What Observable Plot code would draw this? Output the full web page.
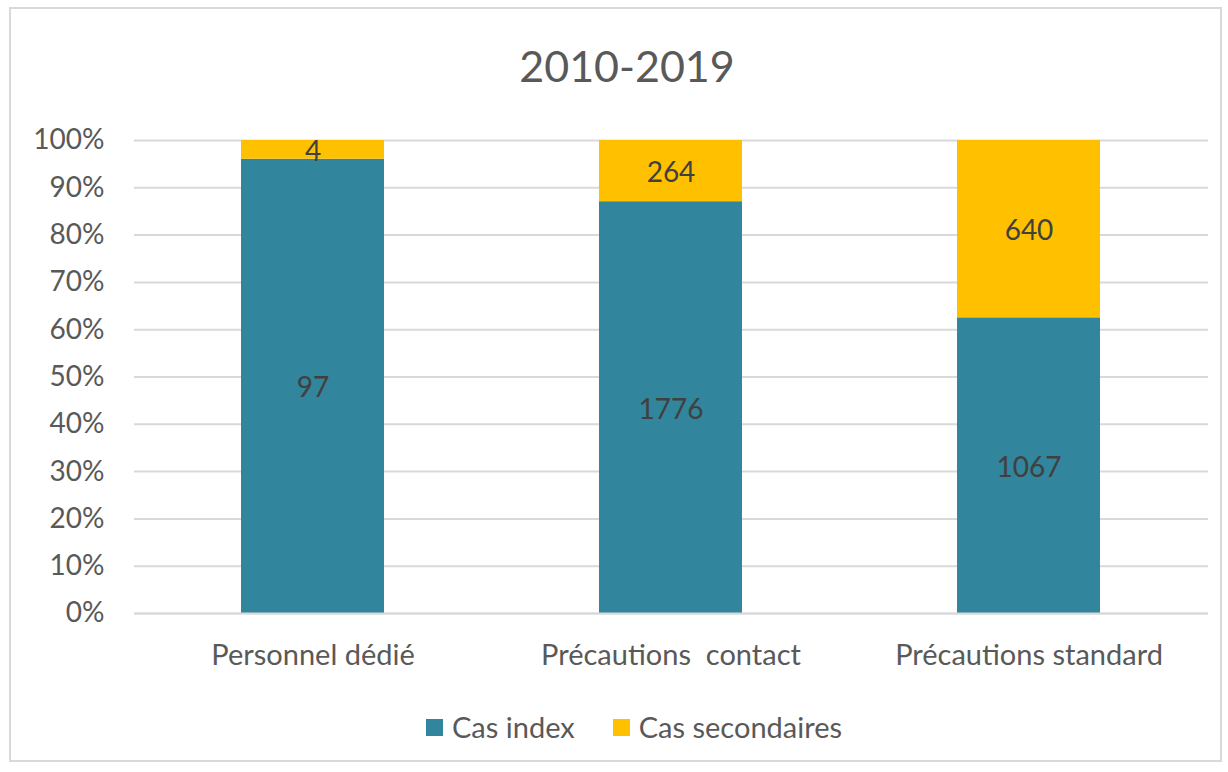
<!DOCTYPE html>
<html>
<head>
<meta charset="utf-8">
<script src="https://cdn.jsdelivr.net/npm/d3@7"></script>
<script src="https://cdn.jsdelivr.net/npm/@observablehq/plot@0.6"></script>
<style>
  html, body { margin: 0; padding: 0; background: #fff; }
  #wrap { position: relative; width: 1228px; height: 772px; overflow: hidden; font-family: Lato, "Open Sans", sans-serif; }
  #frame { position: absolute; left: 9px; top: 7px; width: 1209px; height: 751px; border: 2px solid #d9d9d9; }
  #title { position: absolute; left: 0; width: 1254px; top: 44px; text-align: center; font-size: 43px; line-height: 1; color: #595959; }
  #chart { position: absolute; left: 0; top: 100px; }
  #chart svg text { white-space: pre; }
  #legend { position: absolute; left: 426px; top: 712px; display: flex; align-items: center; font-size: 29px; line-height: 30px; color: #595959; }
  .sw { width: 17px; height: 17px; display: inline-block; margin-right: 9px; }
  .item { display: flex; align-items: center; margin-right: 38px; }
</style>
</head>
<body>
<div id="wrap">
  <div id="frame"></div>
  <div id="title"></div>
  <div id="chart"></div>
  <div id="legend"></div>
</div>
<script>
const title = "2010-2019";
const categories = ["Personnel dédié", "Précautions  contact", "Précautions standard"];
const casIndex = [97, 1776, 1067];
const casSecondaires = [4, 264, 640];
const seriesNames = ["Cas index", "Cas secondaires"];
const seriesColors = ["#31859c", "#ffc000"];
const yTicks = [0, 0.1, 0.2, 0.3, 0.4, 0.5, 0.6, 0.7, 0.8, 0.9, 1];

const rows = [];
categories.forEach((c, i) => {
  rows.push({category: c, series: seriesNames[0], value: casIndex[i]});
  rows.push({category: c, series: seriesNames[1], value: casSecondaires[i]});
});

document.getElementById("title").textContent = title;

const chart = Plot.plot({
  width: 1228,
  height: 580,
  marginTop: 40,
  marginBottom: 67,
  marginLeft: 134,
  marginRight: 20,
  style: {fontFamily: "Lato, 'Open Sans', sans-serif", color: "#595959", background: "transparent"},
  x: {domain: categories, paddingInner: 0.6, paddingOuter: 0.3, label: null},
  y: {domain: [0, 1], label: null},
  color: {domain: seriesNames, range: seriesColors},
  marks: [
    Plot.gridY(yTicks, {stroke: "#d9d9d9", strokeOpacity: 1, strokeWidth: 2}),
    Plot.axisY(yTicks, {tickSize: 0, tickPadding: 30, tickFormat: d3.format(".0%"), fontSize: 28, label: null}),
    Plot.axisX({tickSize: 0, tickPadding: 31, fontSize: 29, label: null}),
    Plot.barY(rows, Plot.stackY({x: "category", y: "value", z: "series", fill: "series", offset: "normalize", order: null})),
    Plot.ruleY([0], {stroke: "#d9d9d9", strokeWidth: 2}),
    Plot.text(rows, Plot.stackY({x: "category", y: "value", z: "series", text: d => String(d.value), offset: "normalize", order: null, fill: "#404040", fontSize: 28, dy: 2}))
  ]
});
document.getElementById("chart").appendChild(chart);

const legend = document.getElementById("legend");
seriesNames.forEach((s, i) => {
  const item = document.createElement("div");
  item.className = "item";
  const sw = document.createElement("span");
  sw.className = "sw";
  sw.style.background = seriesColors[i];
  const t = document.createElement("span");
  t.textContent = s;
  item.appendChild(sw);
  item.appendChild(t);
  legend.appendChild(item);
});
</script>
</body>
</html>
